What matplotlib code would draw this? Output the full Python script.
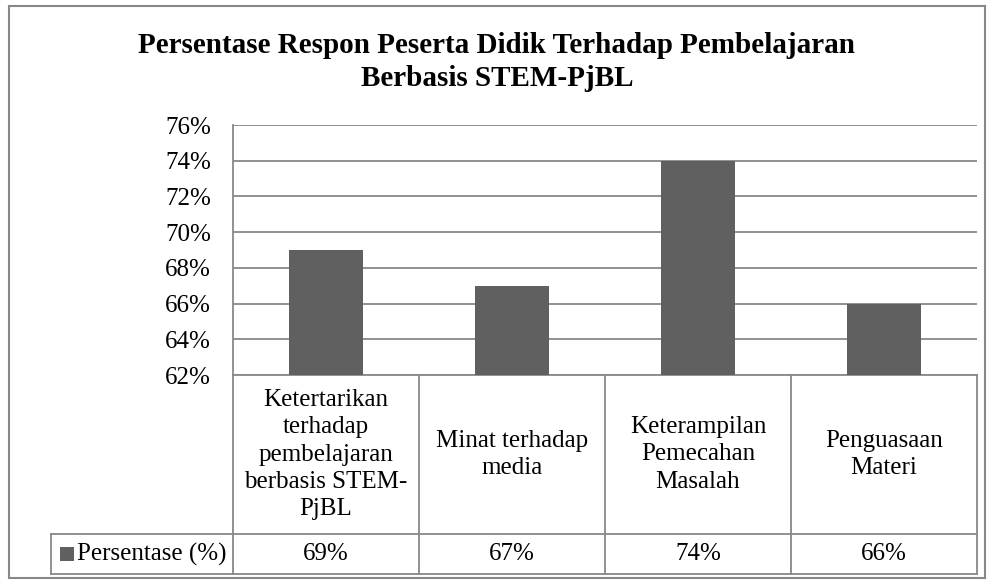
import matplotlib.pyplot as plt
from matplotlib.patches import Rectangle
from matplotlib.ticker import FuncFormatter
import matplotlib.transforms as mtransforms

# --- data ---
kategori = [
    "Ketertarikan\nterhadap\npembelajaran\nberbasis STEM-\nPjBL",
    "Minat terhadap\nmedia",
    "Keterampilan\nPemecahan\nMasalah",
    "Penguasaan\nMateri",
]
persentase = [69, 67, 74, 66]
nama_seri = "Persentase (%)"
judul = "Persentase Respon Peserta Didik Terhadap Pembelajaran\nBerbasis STEM-PjBL"
y_ticks = [62, 64, 66, 68, 70, 72, 74, 76]

plt.rcParams['font.family'] = ['Liberation Serif', 'DejaVu Serif']
BAR = '#606060'
GRID = '#888888'
FS = 18

W, H = 993, 583
fig = plt.figure(figsize=(W / 100, H / 100), dpi=100)

# chart border
fig.patches.append(Rectangle((9 / W, 1 - 578 / H), (985 - 9) / W, (578 - 6) / H,
                             transform=fig.transFigure, fill=False,
                             edgecolor='#888888', lw=1.5))

ax_l, ax_r, ax_t, ax_b = 233, 977, 125, 375
ax = fig.add_axes([ax_l / W, 1 - ax_b / H, (ax_r - ax_l) / W, (ax_b - ax_t) / H])

x = range(len(kategori))
ax.bar(x, persentase, width=0.4, color=BAR, zorder=3)
ax.set_xlim(-0.5, len(kategori) - 0.5)
ax.set_ylim(62, 76)
ax.set_yticks(y_ticks)
ax.yaxis.set_major_formatter(FuncFormatter(lambda v, p: f"{v:.0f}%"))
ax.tick_params(axis='y', length=0, pad=16, labelsize=FS)
ax.set_xticks([])
ax.grid(axis='y', color=GRID, lw=1.3, zorder=0)
for s in ['top', 'right', 'bottom']:
    ax.spines[s].set_visible(False)
ax.spines['left'].set_color(GRID)
ax.spines['left'].set_linewidth(1.3)

fig.text(497 / W, 1 - 62 / H, judul, ha='center', va='center', fontsize=21,
         fontweight='bold', linespacing=1.28)

# --- data table under the axis ---
trans = mtransforms.blended_transform_factory(ax.transData, ax.transAxes)
ph = ax_b - ax_t
y0 = 0
y1 = -(534 - ax_b) / ph
y2 = -(574 - ax_b) / ph
col_w = (ax_r - ax_l) / len(kategori)
x_leg = -0.5 - (ax_l - 51) / col_w
xr = len(kategori) - 0.5
lkw = dict(color=GRID, lw=1.3, transform=trans, clip_on=False)

ax.plot([-0.5, xr], [y0, y0], **lkw)
ax.plot([x_leg, xr], [y1, y1], **lkw)
ax.plot([x_leg, xr], [y2, y2], **lkw)
ax.plot([x_leg, x_leg], [y1, y2], **lkw)
for i in range(len(kategori) + 1):
    ax.plot([i - 0.5, i - 0.5], [y0, y2], **lkw)

for i, (k, v) in enumerate(zip(kategori, persentase)):
    ax.text(i, (y0 + y1) / 2, k, transform=trans, ha='center', va='center',
            fontsize=FS, linespacing=1.3)
    ax.text(i, (y1 + y2) / 2, f"{v}%", transform=trans, ha='center',
            va='center', fontsize=FS)

# legend key in the table
px = 1 / col_w
ax.add_patch(Rectangle((x_leg + 9 * px, (y1 + y2) / 2 - 7 / ph), 14 * px, 14 / ph,
                       transform=trans, facecolor=BAR, edgecolor='none',
                       clip_on=False))
ax.text(x_leg + 26 * px, (y1 + y2) / 2, nama_seri, transform=trans, ha='left',
        va='center', fontsize=FS)

fig.savefig('out.png', dpi=100)
